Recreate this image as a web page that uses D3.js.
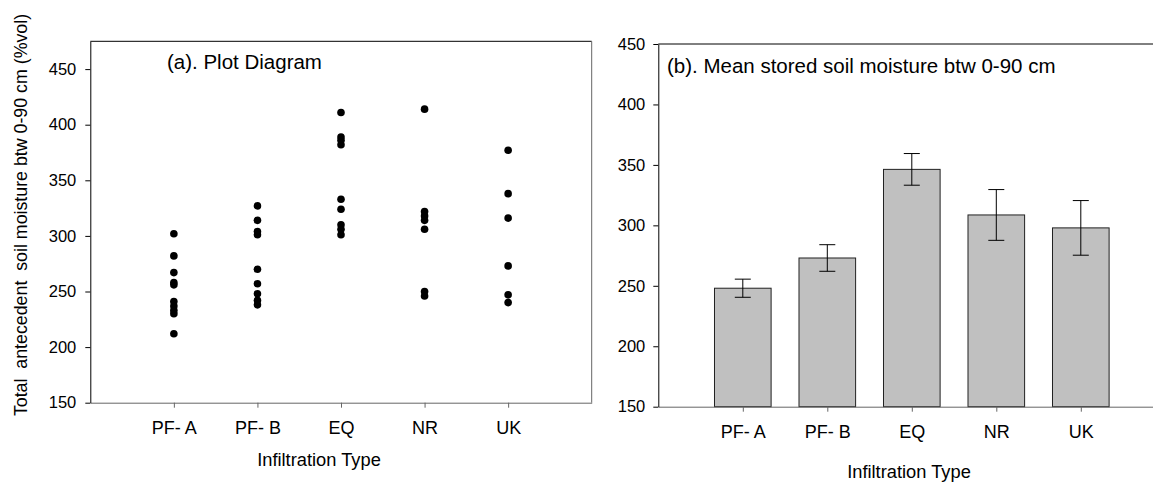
<!DOCTYPE html>
<html>
<head>
<meta charset="utf-8">
<script src="https://cdn.jsdelivr.net/npm/d3@7"></script>
<style>
  html, body { margin: 0; padding: 0; background: #fff; }
  svg { display: block; font-family: "Liberation Sans", Arial, Helvetica, sans-serif; }
  svg text { font-family: "Liberation Sans", Arial, Helvetica, sans-serif; }
</style>
</head>
<body>
<svg id="chart" width="1153" height="482"></svg>
<script>
// ---- data ----
const categories = ["PF- A", "PF- B", "EQ", "NR", "UK"];
const pfA = [302, 282, 267, 258, 256, 241, 237, 233, 230, 212];
const pfB = [327, 314, 304, 301, 270, 257, 248, 242, 238];
const eq  = [411, 389, 386, 382, 333, 324, 310, 306, 301];
const nr  = [414, 322, 318, 314, 306, 250, 246];
const uk  = [377, 338, 316, 273, 247, 240];
const meanValues = [248, 273, 346.3, 308.6, 297.9];
const stdErrors  = [7.5, 11, 13.1, 21, 22.6];
const yTicks = [150, 200, 250, 300, 350, 400, 450];
const titleA = "(a). Plot Diagram";
const titleB = "(b). Mean stored soil moisture btw 0-90 cm";
const yTitle = "Total  antecedent  soil moisture btw 0-90 cm (%vol)";
const xTitle = "Infiltration Type";

const groups = [pfA, pfB, eq, nr, uk];
const points = [];
groups.forEach((g, i) => g.forEach(v => points.push({ cat: i, v })));

const FONT = "'Liberation Sans', Arial, Helvetica, sans-serif";
const svg = d3.select("#chart");
svg.append("rect").attr("width", 1153).attr("height", 482).attr("fill", "#fff");

// ---------- Panel (a) ----------
const L = { left: 90.3, right: 591.7, top: 41.3, bottom: 402.7 };
const xA = d3.scaleLinear().domain([0, 6]).range([L.left, L.right]);
const yA = d3.scaleLinear().domain([150, 475]).range([L.bottom, L.top]);

const gA = svg.append("g");
gA.append("line").attr("x1", L.left).attr("x2", L.right).attr("y1", L.top).attr("y2", L.top)
  .attr("stroke", "#000").attr("stroke-width", 1);
gA.append("line").attr("x1", L.right).attr("x2", L.right).attr("y1", L.top).attr("y2", L.bottom)
  .attr("stroke", "#666").attr("stroke-width", 1);

const axA = gA.append("g").attr("transform", `translate(0,${L.bottom})`)
  .call(d3.axisBottom(xA).tickValues([1, 2, 3, 4, 5]).tickFormat(d => categories[d - 1])
    .tickSizeInner(5).tickSizeOuter(0).tickPadding(14));
axA.attr("font-family", FONT);
axA.select(".domain").attr("stroke", "#666");
axA.selectAll(".tick line").attr("stroke", "#666");
axA.selectAll(".tick text").attr("font-size", "18px").attr("fill", "#000").style("font-family", FONT);

const ayA = gA.append("g").attr("transform", `translate(${L.left},0)`)
  .call(d3.axisLeft(yA).tickValues(yTicks).tickSizeInner(5).tickSizeOuter(0).tickPadding(9));
ayA.attr("font-family", FONT);
ayA.select(".domain").attr("stroke", "#000");
ayA.selectAll(".tick line").attr("stroke", "#000");
ayA.selectAll(".tick text").attr("font-size", "16.5px").attr("fill", "#000").style("font-family", FONT);

gA.selectAll("circle.pt").data(points).join("circle")
  .attr("class", "pt")
  .attr("cx", d => xA(d.cat + 1))
  .attr("cy", d => yA(d.v))
  .attr("r", 3.8)
  .attr("fill", "#000");

gA.append("text").attr("x", 167).attr("y", 69).attr("font-size", "20.5px").text(titleA);
gA.append("text").attr("x", 319).attr("y", 466).attr("text-anchor", "middle")
  .attr("font-size", "18.3px").text(xTitle);
gA.append("text").attr("transform", "translate(27,215) rotate(-90)")
  .attr("text-anchor", "middle").attr("font-size", "17.8px")
  .style("white-space", "pre").attr("xml:space", "preserve").text(yTitle);

// ---------- Panel (b) ----------
const R = { left: 658.3, top: 44, bottom: 406.7 };
const step = 84.5;
const xB = d3.scaleLinear().domain([0, 6]).range([R.left, R.left + 6 * step]);
const yB = d3.scaleLinear().domain([150, 450]).range([R.bottom, R.top]);
const barW = xB(0.67) - xB(0);

const gB = svg.append("g");
gB.append("line").attr("x1", R.left).attr("x2", 1153).attr("y1", R.top).attr("y2", R.top)
  .attr("stroke", "#000").attr("stroke-width", 1);

gB.selectAll("rect.bar").data(meanValues).join("rect")
  .attr("class", "bar")
  .attr("x", (d, i) => xB(i + 1) - barW / 2)
  .attr("y", d => yB(d))
  .attr("width", barW)
  .attr("height", d => yB(150) - yB(d))
  .attr("fill", "#c0c0c0")
  .attr("stroke", "#222")
  .attr("stroke-width", 1);

const capW = 8;
const eb = gB.selectAll("g.err").data(meanValues).join("g").attr("class", "err");
eb.append("line")
  .attr("x1", (d, i) => xB(i + 1)).attr("x2", (d, i) => xB(i + 1))
  .attr("y1", (d, i) => yB(d + stdErrors[i])).attr("y2", (d, i) => yB(d - stdErrors[i]))
  .attr("stroke", "#000");
eb.append("line")
  .attr("x1", (d, i) => xB(i + 1) - capW).attr("x2", (d, i) => xB(i + 1) + capW)
  .attr("y1", (d, i) => yB(d + stdErrors[i])).attr("y2", (d, i) => yB(d + stdErrors[i]))
  .attr("stroke", "#000");
eb.append("line")
  .attr("x1", (d, i) => xB(i + 1) - capW).attr("x2", (d, i) => xB(i + 1) + capW)
  .attr("y1", (d, i) => yB(d - stdErrors[i])).attr("y2", (d, i) => yB(d - stdErrors[i]))
  .attr("stroke", "#000");

const axB = gB.append("g").attr("transform", `translate(0,${R.bottom})`)
  .call(d3.axisBottom(xB).tickValues([1, 2, 3, 4, 5]).tickFormat(d => categories[d - 1])
    .tickSizeInner(5).tickSizeOuter(0).tickPadding(13.5));
axB.attr("font-family", FONT);
axB.select(".domain").attr("stroke", "#666");
axB.selectAll(".tick line").attr("stroke", "#666");
axB.selectAll(".tick text").attr("font-size", "18px").attr("fill", "#000").style("font-family", FONT);

const ayB = gB.append("g").attr("transform", `translate(${R.left},0)`)
  .call(d3.axisLeft(yB).tickValues(yTicks).tickSizeInner(5).tickSizeOuter(0).tickPadding(8));
ayB.attr("font-family", FONT);
ayB.select(".domain").attr("stroke", "#000");
ayB.selectAll(".tick line").attr("stroke", "#000");
ayB.selectAll(".tick text").attr("font-size", "16.5px").attr("fill", "#000").style("font-family", FONT);

gB.append("text").attr("x", 667).attr("y", 73).attr("font-size", "20.5px").text(titleB);
gB.append("text").attr("x", 909).attr("y", 478).attr("text-anchor", "middle")
  .attr("font-size", "18.3px").text(xTitle);
</script>
</body>
</html>
